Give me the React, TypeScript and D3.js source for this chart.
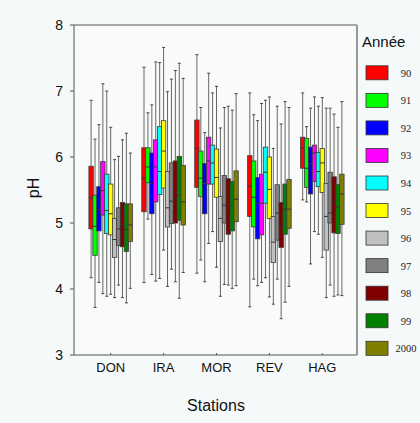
import React from "react";
import * as d3 from "d3";

const stations = ["DON", "IRA", "MOR", "REV", "HAG"];
const years = ["90", "91", "92", "93", "94", "95", "96", "97", "98", "99", "2000"];
const colors = ["#ff0000", "#00ff00", "#0000ff", "#ff00ff", "#00ffff", "#ffff00", "#c0c0c0", "#808080", "#800000", "#008000", "#808000"];
const yTicks = [3, 4, 5, 6, 7, 8];

// [low whisker, Q1, median, Q3, high whisker] per year, per station
const DON = [
  [4.17, 4.91, 5.38, 5.86, 6.86],
  [3.72, 4.51, 4.95, 5.42, 6.27],
  [4.10, 4.88, 5.20, 5.55, 6.49],
  [3.93, 5.12, 5.49, 5.93, 7.11],
  [3.89, 4.84, 5.19, 5.74, 7.00],
  [3.92, 4.82, 5.14, 5.59, 6.45],
  [3.87, 4.48, 4.75, 5.07, 5.96],
  [4.06, 4.66, 4.91, 5.23, 6.01],
  [3.87, 4.64, 4.97, 5.31, 6.26],
  [3.79, 4.57, 4.90, 5.29, 6.36],
  [4.01, 4.72, 4.97, 5.29, 6.06],
];
const IRA = [
  [4.10, 5.17, 5.68, 6.14, 7.36],
  [5.06, 5.61, 5.85, 6.14, 6.67],
  [4.22, 5.14, 5.60, 6.06, 6.79],
  [4.12, 5.32, 5.85, 6.26, 7.44],
  [4.16, 5.43, 5.78, 6.46, 7.43],
  [4.59, 5.53, 6.09, 6.55, 7.66],
  [4.04, 4.94, 5.23, 5.78, 6.99],
  [4.30, 4.99, 5.33, 5.91, 7.18],
  [4.11, 5.00, 5.35, 5.94, 7.31],
  [3.86, 5.04, 5.42, 6.01, 7.42],
  [4.25, 4.97, 5.32, 5.87, 7.19],
];
const MOR = [
  [4.24, 5.54, 6.13, 6.56, 7.55],
  [4.44, 5.40, 5.68, 6.09, 6.75],
  [4.11, 5.14, 5.60, 5.90, 6.37],
  [4.69, 5.59, 5.94, 6.30, 7.27],
  [4.87, 5.59, 5.91, 6.18, 6.97],
  [4.33, 5.39, 5.69, 6.12, 7.07],
  [3.89, 4.72, 5.07, 5.40, 6.44],
  [4.07, 5.00, 5.27, 5.72, 6.75],
  [4.06, 4.83, 5.27, 5.67, 6.77],
  [4.01, 4.88, 5.26, 5.63, 6.71],
  [4.05, 5.02, 5.36, 5.79, 6.96],
];
const REV = [
  [3.73, 5.10, 5.56, 6.02, 6.97],
  [4.15, 4.94, 5.39, 5.94, 6.64],
  [4.05, 4.76, 5.30, 5.69, 6.55],
  [4.10, 4.82, 5.30, 5.74, 6.81],
  [4.17, 5.30, 5.77, 6.15, 6.86],
  [3.88, 5.07, 5.51, 6.00, 6.91],
  [3.77, 4.40, 4.71, 5.10, 6.13],
  [4.15, 4.74, 5.15, 5.58, 6.77],
  [3.55, 4.63, 4.94, 5.31, 6.50],
  [3.80, 4.83, 5.21, 5.59, 6.84],
  [4.04, 4.92, 5.21, 5.66, 6.75],
];
const HAG = [
  [5.35, 5.83, 6.13, 6.30, 6.97],
  [5.32, 5.54, 5.83, 6.28, 6.46],
  [4.38, 5.44, 5.90, 6.15, 6.74],
  [4.87, 5.63, 6.06, 6.18, 6.91],
  [4.83, 5.55, 5.78, 6.07, 6.77],
  [4.48, 5.46, 5.91, 6.13, 6.90],
  [3.87, 4.59, 5.10, 5.60, 6.74],
  [4.06, 5.00, 5.15, 5.77, 6.74],
  [3.89, 4.85, 5.32, 5.70, 6.65],
  [3.91, 4.84, 5.24, 5.58, 6.45],
  [3.90, 4.98, 5.44, 5.74, 6.84],
];
const stationData = [DON, IRA, MOR, REV, HAG];

export default function App() {
  const W = 420, H = 423;
  const left = 74, right = 357, top = 25, bottom = 355;
  const y = d3.scaleLinear().domain([3, 8]).range([bottom, top]);
  const x = d3.scalePoint<string>().domain(stations).range([110.7, 322.3]);
  const off = d3.scaleLinear().domain([0, years.length - 1]).range([-19.6, 19.6]);
  const bw = 4.4;
  const legendY = d3.scaleLinear().domain([0, years.length - 1]).range([72.8, 348.3]);
  const sans = "Liberation Sans, Arial, sans-serif";

  return (
    <svg width={W} height={H} style={{ position: "absolute", left: 0, top: 0, background: "#f6f9f9" }}>
      <rect x={0} y={0} width={W} height={H} fill="#f6f9f9" />
      <rect x={left} y={top} width={right - left} height={bottom - top} fill="#f9fbfb" />
      {stationData.map((sd, si) =>
        sd.map((d, yi) => {
          const cx = (x(stations[si]) as number) + off(yi);
          const [lo, q1, med, q3, hi] = d;
          return (
            <g key={`${si}-${yi}`}>
              <line x1={cx} x2={cx} y1={y(q3)} y2={y(hi)} stroke="#666" strokeWidth={1} />
              <line x1={cx} x2={cx} y1={y(q1)} y2={y(lo)} stroke="#666" strokeWidth={1} />
              <line x1={cx - 1.5} x2={cx + 1.5} y1={y(hi)} y2={y(hi)} stroke="#444" strokeWidth={1} />
              <line x1={cx - 1.5} x2={cx + 1.5} y1={y(lo)} y2={y(lo)} stroke="#444" strokeWidth={1} />
            </g>
          );
        })
      )}
      {stationData.map((sd, si) =>
        sd.map((d, yi) => {
          const cx = (x(stations[si]) as number) + off(yi);
          const [, q1, med, q3] = d;
          return (
            <g key={`b${si}-${yi}`}>
              <rect x={cx - bw / 2} y={y(q3)} width={bw} height={y(q1) - y(q3)} fill={colors[yi]} stroke="#3a3a3a" strokeWidth={0.8} />
              <line x1={cx - bw / 2} x2={cx + bw / 2} y1={y(med)} y2={y(med)} stroke="#333" strokeWidth={1} />
            </g>
          );
        })
      )}
      {/* frame */}
      <line x1={left} x2={right} y1={top} y2={top} stroke="#555" strokeWidth={1} />
      <line x1={left} x2={right} y1={bottom} y2={bottom} stroke="#555" strokeWidth={1} />
      <line x1={left} x2={left} y1={top} y2={bottom} stroke="#555" strokeWidth={1} />
      <line x1={right} x2={right} y1={top} y2={bottom} stroke="#999" strokeWidth={2} />
      {yTicks.map((t) => (
        <g key={t}>
          <line x1={left - 4} x2={left} y1={y(t)} y2={y(t)} stroke="#555" />
          <text x={left - 11} y={y(t) + 5} textAnchor="end" fontFamily={sans} fontSize={14} fill="#111">{t}</text>
        </g>
      ))}
      {stations.map((s) => (
        <g key={s}>
          <line x1={x(s) as number} x2={x(s) as number} y1={bottom - 2} y2={bottom} stroke="#555" />
          <text x={x(s) as number} y={372} textAnchor="middle" fontFamily={sans} fontSize={13} fill="#111">{s}</text>
        </g>
      ))}
      <text x={216} y={411} textAnchor="middle" fontFamily={sans} fontSize={16} fill="#111">Stations</text>
      <text transform="translate(39,188) rotate(-90)" textAnchor="middle" fontFamily={sans} fontSize={16} fill="#111">pH</text>
      <text x={362} y={47} fontFamily={sans} fontSize={15} fill="#111">Année</text>
      {years.map((yr, i) => (
        <g key={yr}>
          <rect x={366} y={legendY(i) - 7} width={22} height={14} fill={colors[i]} stroke="#333" strokeWidth={0.8} />
          <text x={406} y={legendY(i) + 4} textAnchor="middle" fontFamily="Liberation Serif, DejaVu Serif, serif" fontSize={10.5} fill="#222">{yr}</text>
        </g>
      ))}
    </svg>
  );
}
